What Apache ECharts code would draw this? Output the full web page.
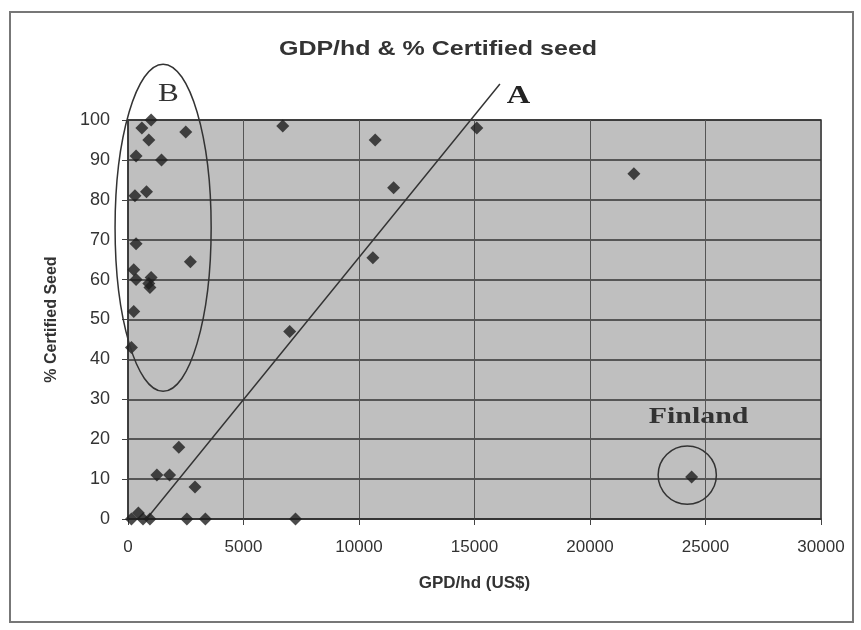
<!DOCTYPE html>
<html>
<head>
<meta charset="utf-8">
<script src="https://cdn.jsdelivr.net/npm/echarts@6/dist/echarts.min.js"></script>
<style>html,body{margin:0;padding:0;background:#fff;}#c{width:861px;height:630px;}</style>
</head>
<body>
<div id="c"></div>
<script>
// ---- data ----
var chartTitle = 'GDP/hd & % Certified seed';
var gdpPerHead = [1000, 600, 900, 2500, 350, 1450, 300, 800, 350, 2700, 250, 350, 1000, 900, 950, 250, 150, 2200, 1250, 1800, 2900, 150, 450, 650, 950, 2550, 3350, 7250, 6700, 10700, 11500, 10600, 15100, 21900, 7000, 24400];
var certifiedSeed = [100, 98, 95, 97, 91, 90, 81, 82, 69, 64.5, 62.5, 60, 60.5, 59, 58, 52, 43, 18, 11, 11, 8, 0, 1.5, 0, 0, 0, 0, 0, 98.5, 95, 83, 65.5, 98, 86.5, 47, 10.5];
var lineAx = [800, 16100];
var lineAy = [0, 109];
var xTicks = [0, 5000, 10000, 15000, 20000, 25000, 30000];
var yTicks = [0, 10, 20, 30, 40, 50, 60, 70, 80, 90, 100];
// annotations (data coordinates)
var ellipseB = [1520, 73, 2080, 41];      // cx, cy, rx, ry
var labelB = [1750, 106.5];
var labelA = [16900, 106];
var finlandCircle = [24210, 11, 1260];    // cx, cy, r (x units)
var labelFinland = [24700, 25.5];

var chart = echarts.init(document.getElementById('c'));
var pts = gdpPerHead.map(function (g, i) { return [g, certifiedSeed[i]]; });
var lineA = lineAx.map(function (x, i) { return [x, lineAy[i]]; });

chart.setOption({
  backgroundColor: '#ffffff',
  animation: false,
  grid: {
    left: 128, right: 40, top: 120, bottom: 111,
    show: true, backgroundColor: '#bfbfbf', borderColor: '#333', borderWidth: 1.5
  },
  xAxis: {
    type: 'value', min: 0, max: 30000, interval: 5000,
    name: 'GPD/hd (US$)', nameLocation: 'middle', nameGap: 56,
    nameTextStyle: { fontFamily: 'Liberation Sans, Arial', fontSize: 17, fontWeight: 'bold', color: '#333' },
    axisLine: { show: true, lineStyle: { color: '#333', width: 1.5 } },
    axisTick: { show: true, length: 6, lineStyle: { color: '#444' } },
    axisLabel: { margin: 20, fontFamily: 'Liberation Sans, Arial', fontSize: 17, color: '#333',
      formatter: function (v) { return xTicks.indexOf(v) >= 0 ? String(v) : ''; } },
    splitLine: { show: true, lineStyle: { color: '#555', width: 1 } }
  },
  yAxis: {
    type: 'value', min: 0, max: 100, interval: 10,
    name: '% Certified Seed', nameLocation: 'middle', nameGap: 68,
    nameTextStyle: { fontFamily: 'Liberation Sans, Arial', fontSize: 16, fontWeight: 'bold', color: '#333' },
    axisLine: { show: true, lineStyle: { color: '#333', width: 1.5 } },
    axisTick: { show: true, length: 6, lineStyle: { color: '#444' } },
    axisLabel: { margin: 18, fontFamily: 'Liberation Sans, Arial', fontSize: 18, color: '#333',
      formatter: function (v) { return yTicks.indexOf(v) >= 0 ? String(v) : ''; } },
    splitLine: { show: true, lineStyle: { color: '#333', width: 1.5 } }
  },
  series: [
    {
      type: 'line', data: lineA, clip: false, symbol: 'none', silent: true,
      lineStyle: { color: '#333', width: 1.5 }, z: 3
    },
    {
      type: 'scatter', data: pts, symbol: 'diamond', symbolSize: 13,
      itemStyle: { color: '#1e1e1e' }, z: 4
    }
  ]
});

function px(p) { return chart.convertToPixel({ gridIndex: 0 }, p); }
var c0 = px([ellipseB[0], ellipseB[1]]);
var cE = px([ellipseB[0] + ellipseB[2], ellipseB[1] + ellipseB[3]]);
var f0 = px([finlandCircle[0], finlandCircle[1]]);
var fE = px([finlandCircle[0] + finlandCircle[2], finlandCircle[1]]);
var pB = px(labelB), pA = px(labelA), pF = px(labelFinland);

chart.setOption({
  graphic: [
    { type: 'rect', shape: { x: 10, y: 12, width: 843, height: 610 }, style: { fill: 'none', stroke: '#777', lineWidth: 2 }, silent: true, z: 0 },
    { type: 'text', x: 438, y: 49, scaleX: 1.25, style: { text: chartTitle, font: 'bold 20px "Liberation Sans", Arial', fill: '#333', textAlign: 'center', textVerticalAlign: 'middle' }, z: 100 },
    { type: 'ellipse', shape: { cx: c0[0], cy: c0[1], rx: cE[0] - c0[0], ry: c0[1] - cE[1] }, style: { fill: 'none', stroke: '#333', lineWidth: 1.5 }, z: 100 },
    { type: 'circle', shape: { cx: f0[0], cy: f0[1], r: fE[0] - f0[0] }, style: { fill: 'none', stroke: '#333', lineWidth: 1.5 }, z: 100 },
    { type: 'text', x: pB[0], y: pB[1], scaleX: 1.2, style: { text: 'B', font: '26px "Liberation Serif"', fill: '#333', textAlign: 'center', textVerticalAlign: 'middle' }, z: 100 },
    { type: 'text', x: pA[0], y: pA[1], scaleX: 1.25, style: { text: 'A', font: 'bold 26px "Liberation Serif"', fill: '#222', textAlign: 'center', textVerticalAlign: 'middle' }, z: 100 },
    { type: 'text', x: pF[0], y: pF[1], scaleX: 1.3, style: { text: 'Finland', font: 'bold 23px "Liberation Serif"', fill: '#333', textAlign: 'center', textVerticalAlign: 'middle' }, z: 100 }
  ]
});
</script>
</body>
</html>
